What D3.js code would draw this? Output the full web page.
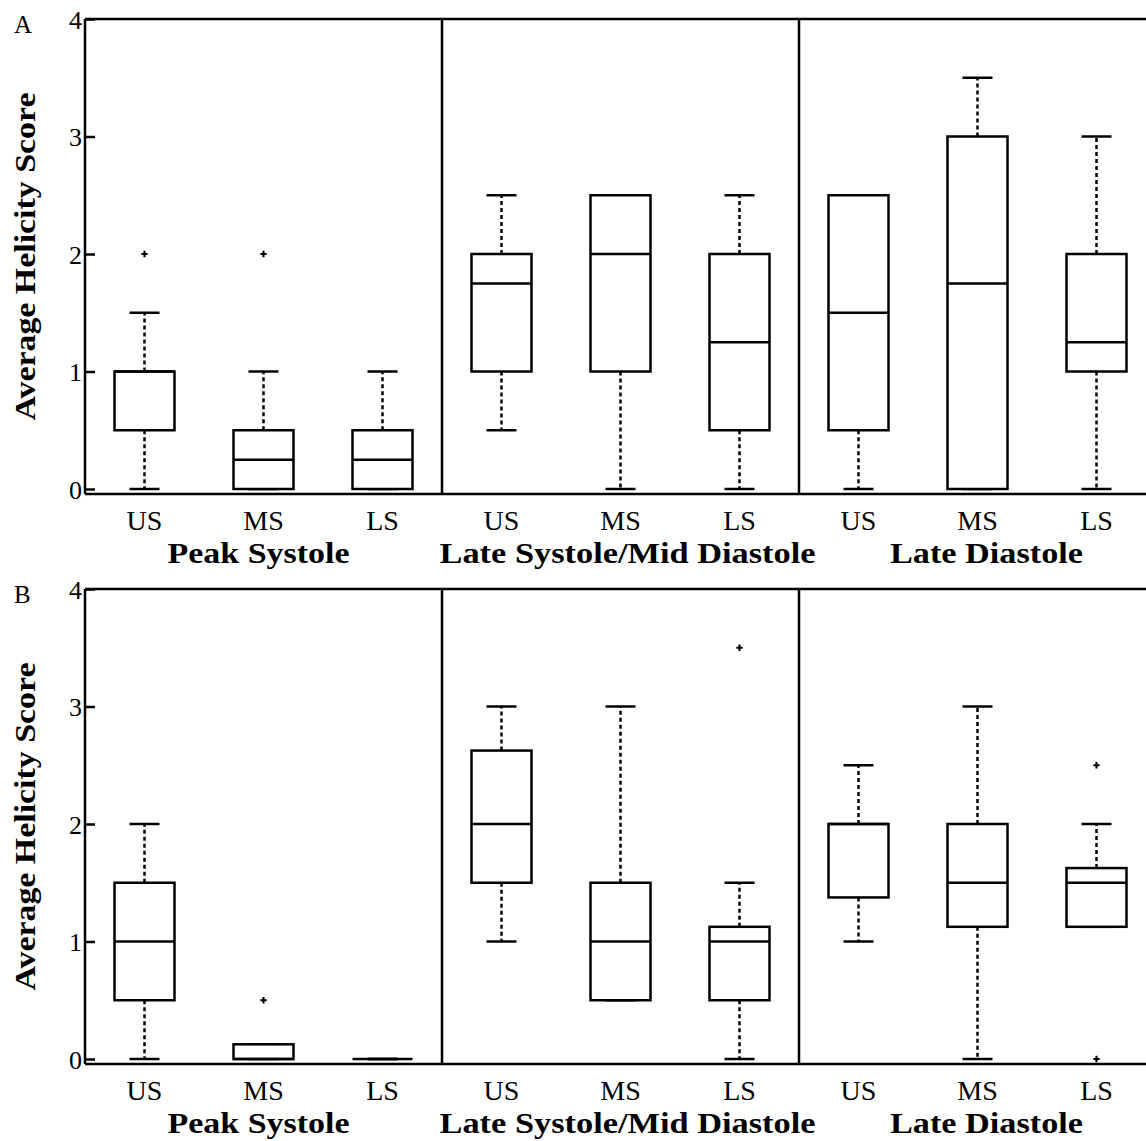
<!DOCTYPE html>
<html>
<head>
<meta charset="utf-8">
<script src="https://cdn.jsdelivr.net/npm/d3@7"></script>
<style>
  body { margin: 0; background: #fff; }
  text { font-family: "Liberation Serif", "Times New Roman", Tinos, serif; fill: #000; }
</style>
</head>
<body>
<svg width="1146" height="1141"></svg>
<script>
const svg = d3.select('svg');
const width = +svg.attr('width');
const serif = '"Liberation Serif", "Times New Roman", Tinos, serif';

// categories
const regions = ['US', 'MS', 'LS'];
const phases = ['Peak Systole', 'Late Systole/Mid Diastole', 'Late Diastole'];
const yTicks = [0, 1, 2, 3, 4];

// panel A, one entry per phase x region
const minA = [0, 0, 0, 0.5, 0, 0, 0, 0, 0];
const q1A  = [0.5, 0, 0, 1, 1, 0.5, 0.5, 0, 1];
const medA = [1, 0.25, 0.25, 1.75, 2, 1.25, 1.5, 1.75, 1.25];
const q3A  = [1, 0.5, 0.5, 2, 2.5, 2, 2.5, 3, 2];
const maxA = [1.5, 1, 1, 2.5, 2.5, 2.5, 2.5, 3.5, 3];
const outA = [[2], [2], [], [], [], [], [], [], []];

// panel B
const minB = [0, 0, 0, 1, 0.5, 0, 1, 0, 1.125];
const q1B  = [0.5, 0, 0, 1.5, 0.5, 0.5, 1.375, 1.125, 1.125];
const medB = [1, 0, 0, 2, 1, 1, 2, 1.5, 1.5];
const q3B  = [1.5, 0.125, 0, 2.625, 1.5, 1.125, 2, 2, 1.625];
const maxB = [2, 0.125, 0, 3, 3, 1.5, 2.5, 3, 2];
const outB = [[], [0.5], [], [], [], [3.5], [], [], [2.5, 0]];

const keys = d3.range(9);
const left = 85, step = 119;
const x = d3.scaleBand().domain(keys).range([left, left + step * 9]).padding(0);
const boxW = 60, capW = 30;

const makeBoxes = (mins, q1s, meds, q3s, maxs, outs) =>
    keys.map(i => ({ i, min: mins[i], q1: q1s[i], med: meds[i], q3: q3s[i], max: maxs[i], out: outs[i] }));

const render = (g, { label, top, zero, boxes }) => {
    const y = d3.scaleLinear().domain([0, 4]).range([zero, top]);
    const bottom = zero + 5;

    // frame
    g.append('line').attr('x1', left).attr('x2', width).attr('y1', top).attr('y2', top)
        .attr('stroke', '#000').attr('stroke-width', 2.5);
    g.append('line').attr('x1', left).attr('x2', width).attr('y1', bottom).attr('y2', bottom)
        .attr('stroke', '#000').attr('stroke-width', 2.5);
    g.append('line').attr('x1', left).attr('x2', left).attr('y1', top).attr('y2', bottom)
        .attr('stroke', '#000').attr('stroke-width', 2.5);
    [3, 6].forEach(k => {
        const xx = x(k);
        g.append('line').attr('x1', xx).attr('x2', xx).attr('y1', top).attr('y2', bottom)
            .attr('stroke', '#000').attr('stroke-width', 2.5);
    });

    // y axis
    const ya = g.append('g').attr('transform', `translate(${left},0)`)
        .call(d3.axisLeft(y).tickValues(yTicks).tickFormat(d3.format('d'))
            .tickSizeInner(-10).tickSizeOuter(0).tickPadding(3));
    ya.attr('font-family', serif);
    ya.select('.domain').remove();
    ya.selectAll('line').attr('stroke', '#000').attr('stroke-width', 2.5);
    ya.selectAll('text').attr('font-size', 26).attr('dy', '0.36em');

    // x axis labels
    const xa = g.append('g').attr('transform', `translate(0,${bottom})`)
        .call(d3.axisBottom(x).tickFormat(i => regions[i % 3]).tickSize(0).tickPadding(16));
    xa.attr('font-family', serif);
    xa.select('.domain').remove();
    xa.selectAll('text').attr('font-size', 28);

    // phase labels
    const phaseLen = [182, 376, 193];
    const phaseShift = [-5, 7, 9];
    phases.forEach((p, k) => {
        g.append('text').attr('x', x(k * 3 + 1) + step / 2 + phaseShift[k]).attr('y', bottom + 69)
            .attr('text-anchor', 'middle').attr('font-size', 30).attr('font-weight', 'bold')
            .attr('textLength', phaseLen[k]).attr('lengthAdjust', 'spacingAndGlyphs')
            .text(p);
    });

    // y title
    g.append('text')
        .attr('transform', `translate(35,${(top + bottom) / 2}) rotate(-90)`)
        .attr('text-anchor', 'middle').attr('font-size', 29).attr('font-weight', 'bold')
        .attr('textLength', 328).attr('lengthAdjust', 'spacingAndGlyphs')
        .text('Average Helicity Score');

    // panel letter
    g.append('text').attr('x', 14).attr('y', top + 14).attr('font-size', 25).text(label);

    // boxes
    const box = g.selectAll('g.box').data(boxes).enter().append('g').attr('class', 'box')
        .attr('transform', d => `translate(${x(d.i) + step / 2},0)`);

    box.append('line').attr('y1', d => y(d.q3)).attr('y2', d => y(d.max))
        .attr('stroke', '#000').attr('stroke-width', 2.5).attr('stroke-dasharray', '4,3');
    box.append('line').attr('y1', d => y(d.q1)).attr('y2', d => y(d.min))
        .attr('stroke', '#000').attr('stroke-width', 2.5).attr('stroke-dasharray', '4,3');
    box.append('line').attr('x1', -capW / 2).attr('x2', capW / 2)
        .attr('y1', d => y(d.max)).attr('y2', d => y(d.max))
        .attr('stroke', '#000').attr('stroke-width', 2.5);
    box.append('line').attr('x1', -capW / 2).attr('x2', capW / 2)
        .attr('y1', d => y(d.min)).attr('y2', d => y(d.min))
        .attr('stroke', '#000').attr('stroke-width', 2.5);
    box.append('rect').attr('x', -boxW / 2).attr('width', boxW)
        .attr('y', d => y(d.q3)).attr('height', d => y(d.q1) - y(d.q3))
        .attr('fill', '#fff').attr('stroke', '#000').attr('stroke-width', 2.5);
    box.append('line').attr('x1', -boxW / 2).attr('x2', boxW / 2)
        .attr('y1', d => y(d.med)).attr('y2', d => y(d.med))
        .attr('stroke', '#000').attr('stroke-width', 2.5);

    box.selectAll('path.out').data(d => d.out).enter().append('path').attr('class', 'out')
        .attr('d', d3.symbol(d3.symbolCross, 22))
        .attr('transform', v => `translate(0,${y(v)})`)
        .attr('fill', '#000');
};

render(svg.append('g'), { label: 'A', top: 19, zero: 489, boxes: makeBoxes(minA, q1A, medA, q3A, maxA, outA) });
render(svg.append('g'), { label: 'B', top: 589, zero: 1059, boxes: makeBoxes(minB, q1B, medB, q3B, maxB, outB) });
</script>
</body>
</html>
